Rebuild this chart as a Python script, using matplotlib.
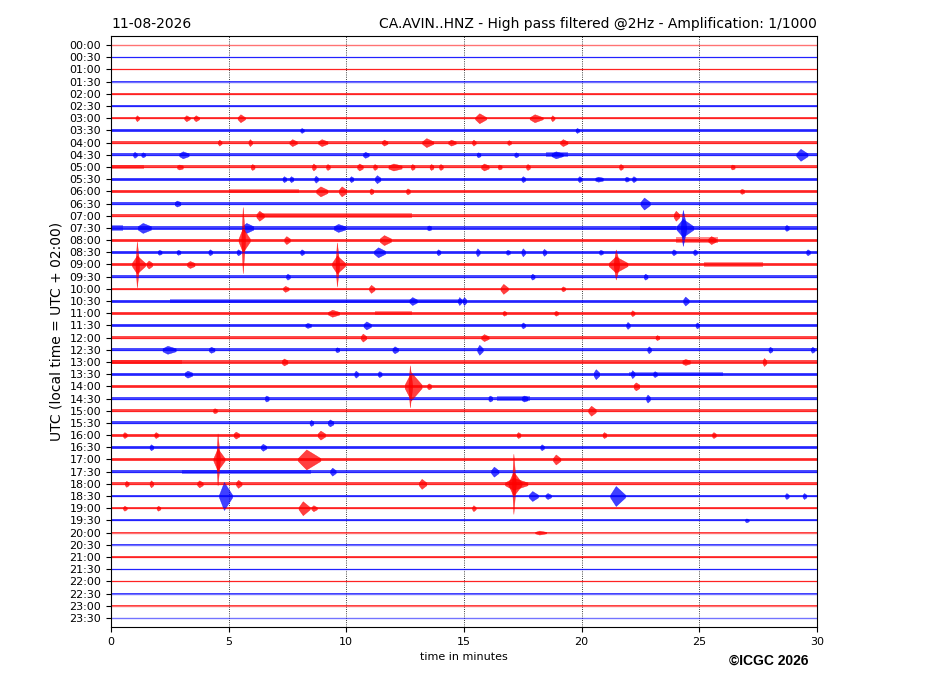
import matplotlib.pyplot as plt
import numpy as np

date_label = "11-08-2026"
station_title = "CA.AVIN..HNZ - High pass filtered @2Hz - Amplification: 1/1000"
hour_labels = [f"{h:02d}:{m:02d}" for h in range(24) for m in (0, 30)]

# background noise level of each half-hour trace (amplitude, counts/1000)
noise = [0.3, 0.4, 0.8, 0.8, 0.8, 0.8, 1.0, 1.1, 1.2, 1.4, 1.5, 1.5,
         1.6, 1.6, 1.6, 1.7, 1.6, 1.5, 1.6, 1.5, 1.3, 1.5, 1.3, 1.4,
         1.3, 1.5, 1.6, 1.6, 1.8, 1.8, 1.6, 1.5, 1.5, 1.4, 1.4, 1.4,
         1.4, 1.3, 1.1, 0.9, 0.7, 0.7, 0.6, 0.6, 0.5, 0.5, 0.4, 0.3]

# stretches with raised noise: (trace, start min, end min, amplitude)
noisy_parts = [(10, 0.0, 1.4, 2.4), (12, 5.0, 8.0, 2.1), (14, 6.3, 12.8, 2.6),
               (15, 0.0, 0.5, 2.6), (15, 22.5, 24.0, 2.4), (16, 24.0, 25.8, 2.8),
               (18, 25.2, 27.7, 2.3), (21, 2.5, 15.0, 1.9), (22, 11.2, 12.8, 2.0),
               (26, 0.0, 3.0, 2.3), (27, 22.0, 26.0, 2.2), (29, 16.4, 17.8, 2.4),
               (35, 3.0, 8.5, 2.0), (9, 18.5, 19.4, 2.4)]

# events: (trace, minute, peak amplitude, half duration in min)
events = [
    (6, 1.1, 3, 0.1), (6, 3.2, 3, 0.15), (6, 3.6, 3, 0.15), (6, 5.5, 4, 0.2),
    (6, 15.65, 5, 0.3), (6, 18.0, 4, 0.35), (6, 18.75, 3, 0.1),
    (7, 8.1, 2.5, 0.1), (7, 19.8, 2.5, 0.1),
    (8, 4.6, 3, 0.1), (8, 5.9, 3.5, 0.1), (8, 7.7, 3.5, 0.2), (8, 8.95, 3.5, 0.25),
    (8, 11.6, 3, 0.15), (8, 13.4, 4.5, 0.3), (8, 14.45, 3, 0.2), (8, 15.4, 3, 0.1),
    (8, 16.9, 2.5, 0.1), (8, 19.2, 3.5, 0.2),
    (9, 1.0, 3, 0.1), (9, 1.35, 2.5, 0.1), (9, 3.05, 3.5, 0.25), (9, 10.8, 3, 0.15),
    (9, 18.9, 3.5, 0.3), (9, 17.2, 2.5, 0.1), (9, 15.6, 2.5, 0.1), (9, 29.3, 6, 0.3),
    (10, 2.9, 2.5, 0.15), (10, 6.0, 3, 0.1), (10, 8.6, 3.5, 0.1), (10, 9.2, 3, 0.1),
    (10, 10.55, 3.5, 0.15), (10, 11.2, 3, 0.1), (10, 12.0, 3.5, 0.35), (10, 12.8, 3, 0.1),
    (10, 13.6, 3, 0.1), (10, 14.0, 3, 0.1), (10, 15.85, 3.5, 0.2), (10, 16.5, 2.5, 0.1),
    (10, 17.7, 3, 0.1), (10, 21.65, 3, 0.1), (10, 26.4, 2.5, 0.1),
    (11, 7.35, 3, 0.1), (11, 7.65, 3, 0.1), (11, 8.7, 3.5, 0.1), (11, 10.2, 3, 0.1),
    (11, 11.3, 4, 0.15), (11, 17.5, 3, 0.1), (11, 19.9, 3, 0.1), (11, 20.7, 2.5, 0.2),
    (11, 21.9, 2.5, 0.1), (11, 22.2, 3, 0.1),
    (12, 8.9, 5, 0.3), (12, 9.8, 5, 0.2), (12, 11.05, 3, 0.1), (12, 12.6, 3, 0.1),
    (12, 26.8, 2.5, 0.1),
    (13, 2.8, 3, 0.15), (13, 22.65, 6, 0.25),
    (14, 6.3, 5, 0.2), (14, 24.0, 5, 0.15),
    (15, 1.35, 5, 0.35), (15, 5.75, 5, 0.3), (15, 9.65, 4, 0.3), (15, 13.5, 2.5, 0.1),
    (15, 24.3, 18, 0.15), (15, 24.3, 9, 0.45), (15, 28.7, 3, 0.1),
    (16, 5.6, 33, 0.1), (16, 5.6, 12, 0.3), (16, 7.45, 4, 0.15), (16, 11.6, 5, 0.3),
    (16, 25.5, 4, 0.2),
    (17, 2.05, 2.5, 0.1), (17, 2.85, 2.5, 0.1), (17, 4.2, 3, 0.1), (17, 5.4, 3, 0.1),
    (17, 8.1, 3, 0.1), (17, 11.35, 5, 0.3), (17, 13.9, 3, 0.1), (17, 15.57, 4, 0.1),
    (17, 16.85, 2.5, 0.1), (17, 17.5, 4, 0.1), (17, 18.4, 3.5, 0.1), (17, 20.8, 2.5, 0.1),
    (17, 23.9, 3, 0.1), (17, 24.8, 3, 0.1), (17, 29.6, 3, 0.1),
    (18, 1.1, 23, 0.1), (18, 1.1, 9, 0.35), (18, 1.6, 4, 0.15), (18, 3.35, 3.5, 0.2),
    (18, 9.6, 22, 0.1), (18, 9.6, 9, 0.35), (18, 21.45, 15, 0.15), (18, 21.45, 8, 0.5),
    (19, 7.5, 3, 0.1), (19, 17.9, 3, 0.1), (19, 22.7, 3, 0.1),
    (20, 7.4, 3, 0.15), (20, 11.05, 4, 0.15), (20, 16.67, 5, 0.2), (20, 19.2, 2.5, 0.1),
    (21, 12.8, 4, 0.2), (21, 14.8, 4, 0.1), (21, 15.0, 4, 0.1), (21, 24.4, 4.5, 0.15),
    (22, 9.4, 3.5, 0.3), (22, 16.7, 2.5, 0.1), (22, 18.9, 2.5, 0.1), (22, 22.15, 3, 0.1),
    (23, 8.35, 2.5, 0.15), (23, 10.85, 4, 0.2), (23, 17.5, 3, 0.1), (23, 21.95, 3.5, 0.1),
    (23, 24.9, 3, 0.1),
    (24, 10.7, 4, 0.15), (24, 15.85, 3.5, 0.2), (24, 23.2, 2.5, 0.1),
    (25, 2.4, 4, 0.35), (25, 4.25, 3, 0.15), (25, 9.6, 2.5, 0.1), (25, 12.05, 3.5, 0.15),
    (25, 15.65, 5, 0.15), (25, 22.85, 3.5, 0.1), (25, 28.0, 3, 0.1), (25, 29.8, 3, 0.1),
    (26, 7.35, 3.5, 0.15), (26, 24.4, 3, 0.2), (26, 27.75, 4, 0.1),
    (27, 3.25, 3.5, 0.2), (27, 10.4, 3.5, 0.1), (27, 11.4, 3, 0.1), (27, 20.6, 5, 0.15),
    (27, 22.15, 4, 0.1), (27, 23.1, 3, 0.1),
    (28, 12.7, 21, 0.1), (28, 12.75, 14, 0.45), (28, 13.5, 3, 0.1), (28, 22.3, 4, 0.15),
    (29, 6.6, 3, 0.1), (29, 16.1, 3, 0.1), (29, 17.55, 3, 0.15), (29, 22.8, 4, 0.1),
    (30, 4.4, 2.5, 0.1), (30, 20.4, 5, 0.2),
    (31, 8.5, 3, 0.1), (31, 9.3, 3.5, 0.15),
    (32, 0.57, 3, 0.1), (32, 1.9, 3, 0.1), (32, 5.3, 3.5, 0.15), (32, 8.9, 4.5, 0.2),
    (32, 17.3, 3, 0.1), (32, 20.95, 3, 0.1), (32, 25.6, 3, 0.1),
    (33, 1.7, 3, 0.1), (33, 6.45, 3.5, 0.15), (33, 18.3, 3, 0.1),
    (34, 4.53, 26, 0.1), (34, 4.53, 11, 0.3), (34, 8.3, 10, 0.6), (34, 18.9, 5, 0.2),
    (35, 9.4, 4, 0.15), (35, 16.27, 5, 0.2),
    (36, 0.65, 3, 0.1), (36, 1.7, 3.5, 0.1), (36, 3.75, 3.5, 0.15), (36, 5.4, 4, 0.15),
    (36, 13.2, 5, 0.2), (36, 17.1, 30, 0.1), (36, 17.1, 12, 0.35), (36, 17.1, 6, 0.6),
    (37, 4.8, 14, 0.35), (37, 17.9, 5, 0.25), (37, 18.55, 3, 0.15), (37, 21.45, 10, 0.4),
    (37, 28.7, 3, 0.1), (37, 29.45, 3, 0.1),
    (38, 0.57, 2.5, 0.1), (38, 2.0, 2.5, 0.1), (38, 8.15, 7, 0.3), (38, 8.6, 3, 0.15),
    (38, 15.4, 3, 0.1),
    (39, 27.0, 2, 0.1),
    (40, 18.2, 2, 0.3),
]

scale = 1 / 12.17  # amplitude -> trace spacing
colors = ['#ff0000', '#0000ff']

fig = plt.figure(figsize=(9.27, 6.96), dpi=100)
ax = fig.add_axes([0.1197, 0.0991, 0.7616, 0.8492])

for i in range(len(hour_labels)):
    c = colors[i % 2]
    n = noise[i] * scale
    ax.fill_between([0, 30], [i - n, i - n], [i + n, i + n], color=c, lw=0, alpha=0.7)
    ax.plot([0, 30], [i, i], color=c, lw=1.0, alpha=0.55)

for tr, t0, t1, a in noisy_parts:
    n = a * scale
    ax.fill_between([t0, t1], [tr - n, tr - n], [tr + n, tr + n],
                    color=colors[tr % 2], lw=0, alpha=0.45)

for tr, t, a, w in events:
    base = noise[tr] * scale
    xs = [max(t - 0.6 * w, 0), t, min(t + w, 30)]
    amp = np.array([base, a * scale, base])
    ax.fill_between(xs, tr - amp, tr + amp, color=colors[tr % 2], lw=0.3,
                    alpha=0.75)

for x in [5, 10, 15, 20, 25]:
    ax.axvline(x, color='black', lw=0.6, ls=':', zorder=0)

ax.set_xlim(0, 30)
ax.set_ylim(47.75, -0.75)
ax.set_yticks(range(len(hour_labels)))
ax.set_yticklabels(hour_labels, fontsize=8)
ax.set_xticks([0, 5, 10, 15, 20, 25, 30])
ax.tick_params(axis='x', labelsize=8)
ax.set_xlabel('time in minutes', fontsize=8)
ax.set_ylabel('UTC (local time = UTC + 02:00)', fontsize=10)
ax.set_title(date_label, loc='left', fontsize=10)
ax.set_title(station_title, loc='right', fontsize=10)

fig.text(0.786, 0.045, '\u00a9ICGC 2026', fontsize=10, fontweight='bold',
         family='Liberation Sans')

fig.savefig('out.png', dpi=100)
